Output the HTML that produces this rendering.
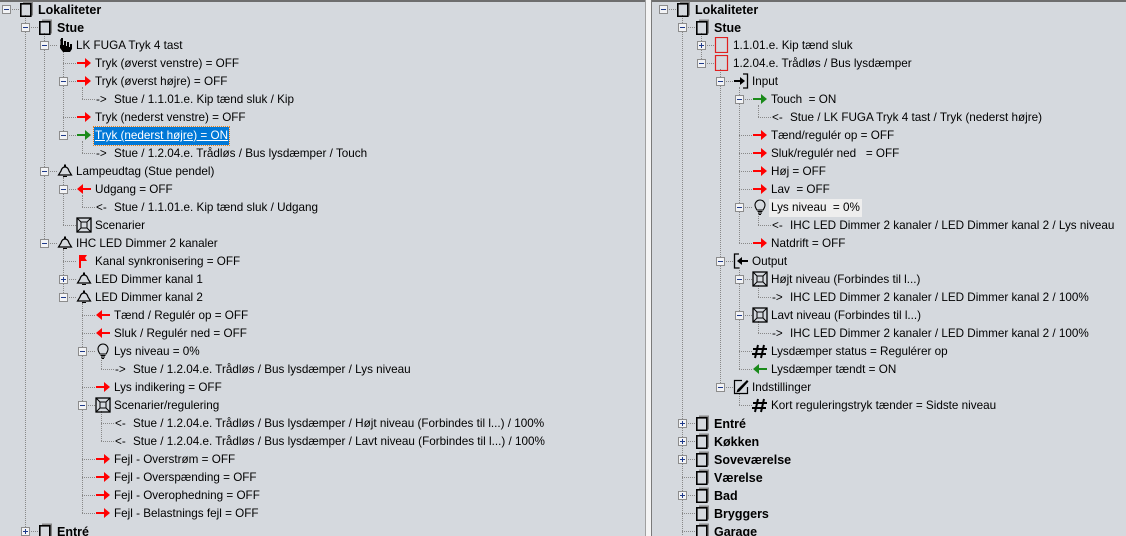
<!DOCTYPE html>
<html><head><meta charset="utf-8"><style>
*{margin:0;padding:0;box-sizing:border-box}
body{width:1126px;height:536px;overflow:hidden;background:#d5d9de;font-family:"Liberation Sans","DejaVu Sans",sans-serif;font-size:11.7px;color:#000;position:relative}
.top{position:absolute;left:0;top:0;width:1126px;height:2px;background:#6e6e6e}
.div1{position:absolute;left:645px;top:0;width:1px;height:536px;background:#a0a0a0}
.div2{position:absolute;left:646px;top:0;width:5px;height:536px;background:#f4f4f4}
.div3{position:absolute;left:651px;top:0;width:1px;height:536px;background:#7a7a7a}
.pane{position:absolute;top:0;height:536px;overflow:hidden}
.r{position:absolute;height:18px;width:600px}
.h{position:absolute;left:6px;top:9px;width:13px;border-top:1px dotted #888}
.e{position:absolute;left:2px;top:5px;width:9px;height:9px;border:1px solid #8c8c8c;background:#f2f3f5}
.e::before{content:"";position:absolute;left:1px;top:3px;width:5px;height:1px;background:#1e3a8a}
.e.p::after{content:"";position:absolute;left:3px;top:1px;width:1px;height:5px;background:#1e3a8a}
.i{position:absolute;left:19px;top:1px;width:16px;height:16px}
.l{position:absolute;left:20px;top:1px;line-height:18px}
.t{position:absolute;left:38px;top:1px;line-height:18px;white-space:nowrap}
.b{font-weight:bold;font-size:12.5px}
.v{position:absolute;border-left:1px dotted #888;width:0}
.sel{background:#0078d7;color:#fff;text-decoration:underline;outline:1px dotted #e08020;padding:0 1px;left:37px}
.hl{background:#eeeeee;padding:0 2px;left:36px}
</style></head><body>
<svg width="0" height="0" style="position:absolute">
<defs>
<symbol id="room" viewBox="0 0 16 16"><rect x="4" y="0.5" width="10" height="2.5" fill="#888"/><rect x="12" y="0.5" width="2" height="14" fill="#888"/><rect x="1.8" y="2.8" width="10" height="12.5" fill="none" stroke="#000" stroke-width="1.6"/></symbol>
<symbol id="rr" viewBox="0 0 16 16"><path d="M1 7h8V3l6 5-6 5V9H1z" fill="#f00"/></symbol>
<symbol id="gr" viewBox="0 0 16 16"><path d="M1 7h8V3l6 5-6 5V9H1z" fill="#1a8a1a"/></symbol>
<symbol id="rl" viewBox="0 0 16 16"><path d="M15 7H7V3L1 8l6 5V9h8z" fill="#f00"/></symbol>
<symbol id="gl" viewBox="0 0 16 16"><path d="M15 7H7V3L1 8l6 5V9h8z" fill="#1a8a1a"/></symbol>
<symbol id="bell" viewBox="0 0 16 16"><path d="M1.5 12h13L12 8Q11 4 8 4 5 4 4 8z" fill="none" stroke="#000" stroke-width="1.2"/><rect x="7" y="1.5" width="2" height="2.5" fill="#000"/><path d="M6 13.5h4" stroke="#000"/></symbol>
<symbol id="scene" viewBox="0 0 16 16"><rect x="1" y="1" width="14" height="14" fill="none" stroke="#000" stroke-width="1.3"/><rect x="5" y="5" width="6" height="6" fill="none" stroke="#000"/><path d="M1.5 1.5l3.5 3.5M14.5 1.5l-3.5 3.5M1.5 14.5l3.5-3.5M14.5 14.5l-3.5-3.5" stroke="#000"/></symbol>
<symbol id="flag" viewBox="0 0 16 16"><path d="M4 2v13" stroke="#f00" stroke-width="2"/><path d="M5 2h6l-2 3 2 3H5z" fill="#f00"/></symbol>
<symbol id="bulb" viewBox="0 0 16 16"><path d="M5 11Q3 8 3 6a5 5 0 0 1 10 0q0 2-2 5z" fill="none" stroke="#000" stroke-width="1.1"/><path d="M5.5 12.5h5M6 14h4M7 15.5h2" stroke="#000"/></symbol>
<symbol id="hand" viewBox="0 0 16 16"><path d="M4 1h2v7h1V4h2v5h1V5h2v5h1V7h2v5l-2 3H6L3 11V8h1z" fill="#000"/><path d="M3 3h1v6" stroke="#000" fill="none"/></symbol>
<symbol id="in" viewBox="0 0 16 16"><path d="M10 1h4.5v14H10" fill="none" stroke="#000" stroke-width="1.3"/><path d="M1 7h6V4l5 4-5 4V9H1z" fill="#000"/></symbol>
<symbol id="out" viewBox="0 0 16 16"><path d="M6 1H1.5v14H6" fill="none" stroke="#000" stroke-width="1.3"/><path d="M15 7H9V4L4 8l5 4V9h6z" fill="#000"/></symbol>
<symbol id="hash" viewBox="0 0 16 16"><path d="M6 2L3 15M12 2L9 15M1 6h14M0 11h14" stroke="#000" stroke-width="2"/></symbol>
<symbol id="pen" viewBox="0 0 16 16"><path d="M9 1.5H1.5v13h13V8" fill="none" stroke="#000" stroke-width="1.2"/><path d="M14 1l1.5 1.5-9 10-3 1 1-3z" fill="#000"/></symbol>
<symbol id="rbox" viewBox="0 0 16 16"><rect x="1.5" y="0.5" width="12" height="15" fill="none" stroke="#e02020" stroke-width="1.2"/></symbol>
</defs></svg>
<div class="top"></div>

<!-- LEFT PANE -->
<div class="pane" style="left:0;width:645px">
<div class="v" style="left:25px;top:15px;height:530px"></div>
<div class="v" style="left:44px;top:33px;height:210px"></div>
<div class="v" style="left:63px;top:51px;height:84px"></div>
<div class="v" style="left:82px;top:87px;height:12px"></div>
<div class="v" style="left:82px;top:141px;height:12px"></div>
<div class="v" style="left:63px;top:177px;height:48px"></div>
<div class="v" style="left:82px;top:195px;height:12px"></div>
<div class="v" style="left:63px;top:249px;height:48px"></div>
<div class="v" style="left:82px;top:303px;height:210px"></div>
<div class="v" style="left:101px;top:357px;height:12px"></div>
<div class="v" style="left:101px;top:411px;height:30px"></div>

<div class="r" style="top:0;left:0"><div class="h"></div><div class="e"></div><svg class="i"><use href="#room"/></svg><div class="t b">Lokaliteter</div></div>
<div class="r" style="top:18px;left:19px"><div class="h"></div><div class="e"></div><svg class="i"><use href="#room"/></svg><div class="t b">Stue</div></div>
<div class="r" style="top:36px;left:38px"><div class="h"></div><div class="e"></div><svg class="i"><use href="#hand"/></svg><div class="t">LK FUGA Tryk 4 tast</div></div>
<div class="r" style="top:54px;left:57px"><div class="h"></div><svg class="i"><use href="#rr"/></svg><div class="t">Tryk (øverst venstre) = OFF</div></div>
<div class="r" style="top:72px;left:57px"><div class="h"></div><div class="e"></div><svg class="i"><use href="#rr"/></svg><div class="t">Tryk (øverst højre) = OFF</div></div>
<div class="r" style="top:90px;left:76px"><div class="h"></div><div class="l">-&gt;</div><div class="t">Stue / 1.1.01.e. Kip tænd sluk / Kip</div></div>
<div class="r" style="top:108px;left:57px"><div class="h"></div><svg class="i"><use href="#rr"/></svg><div class="t">Tryk (nederst venstre) = OFF</div></div>
<div class="r" style="top:126px;left:57px"><div class="h"></div><div class="e"></div><svg class="i"><use href="#gr"/></svg><div class="t sel">Tryk (nederst højre) = ON</div></div>
<div class="r" style="top:144px;left:76px"><div class="h"></div><div class="l">-&gt;</div><div class="t">Stue / 1.2.04.e. Trådløs / Bus lysdæmper / Touch</div></div>
<div class="r" style="top:162px;left:38px"><div class="h"></div><div class="e"></div><svg class="i"><use href="#bell"/></svg><div class="t">Lampeudtag (Stue pendel)</div></div>
<div class="r" style="top:180px;left:57px"><div class="h"></div><div class="e"></div><svg class="i"><use href="#rl"/></svg><div class="t">Udgang = OFF</div></div>
<div class="r" style="top:198px;left:76px"><div class="h"></div><div class="l">&lt;-</div><div class="t">Stue / 1.1.01.e. Kip tænd sluk / Udgang</div></div>
<div class="r" style="top:216px;left:57px"><div class="h"></div><svg class="i"><use href="#scene"/></svg><div class="t">Scenarier</div></div>
<div class="r" style="top:234px;left:38px"><div class="h"></div><div class="e"></div><svg class="i"><use href="#bell"/></svg><div class="t">IHC LED Dimmer 2 kanaler</div></div>
<div class="r" style="top:252px;left:57px"><div class="h"></div><svg class="i"><use href="#flag"/></svg><div class="t">Kanal synkronisering = OFF</div></div>
<div class="r" style="top:270px;left:57px"><div class="h"></div><div class="e p"></div><svg class="i"><use href="#bell"/></svg><div class="t">LED Dimmer kanal 1</div></div>
<div class="r" style="top:288px;left:57px"><div class="h"></div><div class="e"></div><svg class="i"><use href="#bell"/></svg><div class="t">LED Dimmer kanal 2</div></div>
<div class="r" style="top:306px;left:76px"><div class="h"></div><svg class="i"><use href="#rl"/></svg><div class="t">Tænd / Regulér op = OFF</div></div>
<div class="r" style="top:324px;left:76px"><div class="h"></div><svg class="i"><use href="#rl"/></svg><div class="t">Sluk / Regulér ned = OFF</div></div>
<div class="r" style="top:342px;left:76px"><div class="h"></div><div class="e"></div><svg class="i"><use href="#bulb"/></svg><div class="t">Lys niveau = 0%</div></div>
<div class="r" style="top:360px;left:95px"><div class="h"></div><div class="l">-&gt;</div><div class="t">Stue / 1.2.04.e. Trådløs / Bus lysdæmper / Lys niveau</div></div>
<div class="r" style="top:378px;left:76px"><div class="h"></div><svg class="i"><use href="#rr"/></svg><div class="t">Lys indikering = OFF</div></div>
<div class="r" style="top:396px;left:76px"><div class="h"></div><div class="e"></div><svg class="i"><use href="#scene"/></svg><div class="t">Scenarier/regulering</div></div>
<div class="r" style="top:414px;left:95px"><div class="h"></div><div class="l">&lt;-</div><div class="t">Stue / 1.2.04.e. Trådløs / Bus lysdæmper / Højt niveau (Forbindes til l...) / 100%</div></div>
<div class="r" style="top:432px;left:95px"><div class="h"></div><div class="l">&lt;-</div><div class="t">Stue / 1.2.04.e. Trådløs / Bus lysdæmper / Lavt niveau (Forbindes til l...) / 100%</div></div>
<div class="r" style="top:450px;left:76px"><div class="h"></div><svg class="i"><use href="#rr"/></svg><div class="t">Fejl - Overstrøm = OFF</div></div>
<div class="r" style="top:468px;left:76px"><div class="h"></div><svg class="i"><use href="#rr"/></svg><div class="t">Fejl - Overspænding = OFF</div></div>
<div class="r" style="top:486px;left:76px"><div class="h"></div><svg class="i"><use href="#rr"/></svg><div class="t">Fejl - Overophedning = OFF</div></div>
<div class="r" style="top:504px;left:76px"><div class="h"></div><svg class="i"><use href="#rr"/></svg><div class="t">Fejl - Belastnings fejl = OFF</div></div>
<div class="r" style="top:522px;left:19px"><div class="h"></div><div class="e p"></div><svg class="i"><use href="#room"/></svg><div class="t b">Entré</div></div>
</div>

<div class="div1"></div><div class="div2"></div><div class="div3"></div>

<!-- RIGHT PANE -->
<div class="pane" style="left:657px;width:469px">
<div class="v" style="left:25px;top:15px;height:530px"></div>
<div class="v" style="left:44px;top:33px;height:30px"></div>
<div class="v" style="left:63px;top:69px;height:318px"></div>
<div class="v" style="left:82px;top:87px;height:156px"></div>
<div class="v" style="left:101px;top:105px;height:12px"></div>
<div class="v" style="left:101px;top:213px;height:12px"></div>
<div class="v" style="left:82px;top:267px;height:102px"></div>
<div class="v" style="left:101px;top:285px;height:12px"></div>
<div class="v" style="left:101px;top:321px;height:12px"></div>
<div class="v" style="left:82px;top:393px;height:12px"></div>

<div class="r" style="top:0;left:0"><div class="h"></div><div class="e"></div><svg class="i"><use href="#room"/></svg><div class="t b">Lokaliteter</div></div>
<div class="r" style="top:18px;left:19px"><div class="h"></div><div class="e"></div><svg class="i"><use href="#room"/></svg><div class="t b">Stue</div></div>
<div class="r" style="top:36px;left:38px"><div class="h"></div><div class="e p"></div><svg class="i"><use href="#rbox"/></svg><div class="t">1.1.01.e. Kip tænd sluk</div></div>
<div class="r" style="top:54px;left:38px"><div class="h"></div><div class="e"></div><svg class="i"><use href="#rbox"/></svg><div class="t">1.2.04.e. Trådløs / Bus lysdæmper</div></div>
<div class="r" style="top:72px;left:57px"><div class="h"></div><div class="e"></div><svg class="i"><use href="#in"/></svg><div class="t">Input</div></div>
<div class="r" style="top:90px;left:76px"><div class="h"></div><div class="e"></div><svg class="i"><use href="#gr"/></svg><div class="t">Touch &nbsp;= ON</div></div>
<div class="r" style="top:108px;left:95px"><div class="h"></div><div class="l">&lt;-</div><div class="t">Stue / LK FUGA Tryk 4 tast / Tryk (nederst højre)</div></div>
<div class="r" style="top:126px;left:76px"><div class="h"></div><svg class="i"><use href="#rr"/></svg><div class="t">Tænd/regulér op = OFF</div></div>
<div class="r" style="top:144px;left:76px"><div class="h"></div><svg class="i"><use href="#rr"/></svg><div class="t">Sluk/regulér ned &nbsp;&nbsp;= OFF</div></div>
<div class="r" style="top:162px;left:76px"><div class="h"></div><svg class="i"><use href="#rr"/></svg><div class="t">Høj = OFF</div></div>
<div class="r" style="top:180px;left:76px"><div class="h"></div><svg class="i"><use href="#rr"/></svg><div class="t">Lav &nbsp;= OFF</div></div>
<div class="r" style="top:198px;left:76px"><div class="h"></div><div class="e"></div><svg class="i"><use href="#bulb"/></svg><div class="t hl">Lys niveau &nbsp;= 0%</div></div>
<div class="r" style="top:216px;left:95px"><div class="h"></div><div class="l">&lt;-</div><div class="t">IHC LED Dimmer 2 kanaler / LED Dimmer kanal 2 / Lys niveau</div></div>
<div class="r" style="top:234px;left:76px"><div class="h"></div><svg class="i"><use href="#rr"/></svg><div class="t">Natdrift = OFF</div></div>
<div class="r" style="top:252px;left:57px"><div class="h"></div><div class="e"></div><svg class="i"><use href="#out"/></svg><div class="t">Output</div></div>
<div class="r" style="top:270px;left:76px"><div class="h"></div><div class="e"></div><svg class="i"><use href="#scene"/></svg><div class="t">Højt niveau (Forbindes til l...)</div></div>
<div class="r" style="top:288px;left:95px"><div class="h"></div><div class="l">-&gt;</div><div class="t">IHC LED Dimmer 2 kanaler / LED Dimmer kanal 2 / 100%</div></div>
<div class="r" style="top:306px;left:76px"><div class="h"></div><div class="e"></div><svg class="i"><use href="#scene"/></svg><div class="t">Lavt niveau (Forbindes til l...)</div></div>
<div class="r" style="top:324px;left:95px"><div class="h"></div><div class="l">-&gt;</div><div class="t">IHC LED Dimmer 2 kanaler / LED Dimmer kanal 2 / 100%</div></div>
<div class="r" style="top:342px;left:76px"><div class="h"></div><svg class="i"><use href="#hash"/></svg><div class="t">Lysdæmper status = Regulérer op</div></div>
<div class="r" style="top:360px;left:76px"><div class="h"></div><svg class="i"><use href="#gl"/></svg><div class="t">Lysdæmper tændt = ON</div></div>
<div class="r" style="top:378px;left:57px"><div class="h"></div><div class="e"></div><svg class="i"><use href="#pen"/></svg><div class="t">Indstillinger</div></div>
<div class="r" style="top:396px;left:76px"><div class="h"></div><svg class="i"><use href="#hash"/></svg><div class="t">Kort reguleringstryk tænder = Sidste niveau</div></div>
<div class="r" style="top:414px;left:19px"><div class="h"></div><div class="e p"></div><svg class="i"><use href="#room"/></svg><div class="t b">Entré</div></div>
<div class="r" style="top:432px;left:19px"><div class="h"></div><div class="e p"></div><svg class="i"><use href="#room"/></svg><div class="t b">Køkken</div></div>
<div class="r" style="top:450px;left:19px"><div class="h"></div><div class="e p"></div><svg class="i"><use href="#room"/></svg><div class="t b">Soveværelse</div></div>
<div class="r" style="top:468px;left:19px"><div class="h"></div><svg class="i"><use href="#room"/></svg><div class="t b">Værelse</div></div>
<div class="r" style="top:486px;left:19px"><div class="h"></div><div class="e p"></div><svg class="i"><use href="#room"/></svg><div class="t b">Bad</div></div>
<div class="r" style="top:504px;left:19px"><div class="h"></div><svg class="i"><use href="#room"/></svg><div class="t b">Bryggers</div></div>
<div class="r" style="top:522px;left:19px"><div class="h"></div><svg class="i"><use href="#room"/></svg><div class="t b">Garage</div></div>
</div>
</body></html>
